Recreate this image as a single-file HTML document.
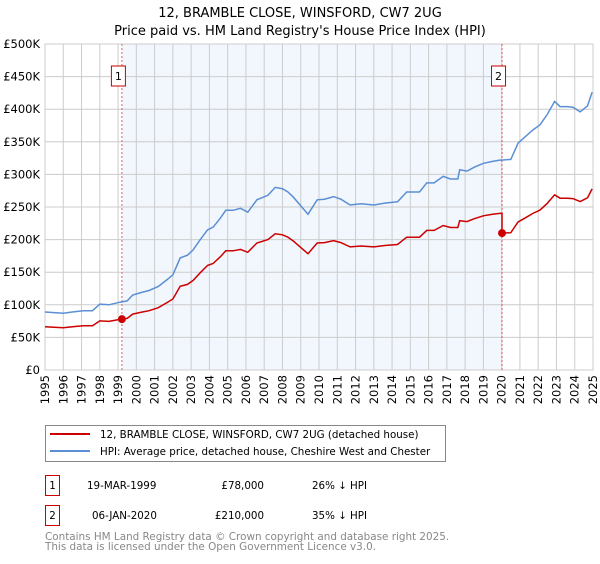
<!DOCTYPE html>
<html><head><meta charset="utf-8"><style>
body{margin:0;background:#fff;font-family:"DejaVu Sans","Liberation Sans",sans-serif;}
svg text{font-family:"DejaVu Sans","Liberation Sans",sans-serif;}
</style></head><body>
<svg id="chart" width="600" height="560" viewBox="0 0 600 560" xmlns="http://www.w3.org/2000/svg">
<text x="300" y="17" font-size="13" text-anchor="middle" fill="#000">12, BRAMBLE CLOSE, WINSFORD, CW7 2UG</text>
<text x="300" y="35" font-size="13" text-anchor="middle" fill="#000">Price paid vs. HM Land Registry's House Price Index (HPI)</text>
<g id="plot"></g>
<g>
<rect x="45.5" y="425.5" width="400" height="36" fill="#fff" stroke="#888"/>
<line x1="50" y1="434" x2="90" y2="434" stroke="#cc0000" stroke-width="2"/>
<text x="100" y="438" font-size="10.3">12, BRAMBLE CLOSE, WINSFORD, CW7 2UG (detached house)</text>
<line x1="50" y1="451" x2="90" y2="451" stroke="#5b8fd4" stroke-width="2"/>
<text x="100" y="455" font-size="10.3">HPI: Average price, detached house, Cheshire West and Chester</text>
</g>
<g font-size="10.3">
<rect x="45.5" y="475.5" width="14" height="20" fill="#fff" stroke="#cc0000"/>
<text x="52.5" y="489" text-anchor="middle">1</text>
<text x="87" y="489">19-MAR-1999</text>
<text x="264" y="489" text-anchor="end">£78,000</text>
<text x="312" y="489">26% ↓ HPI</text>
<rect x="45.5" y="505.5" width="14" height="20" fill="#fff" stroke="#cc0000"/>
<text x="52.5" y="519" text-anchor="middle">2</text>
<text x="92" y="519">06-JAN-2020</text>
<text x="264" y="519" text-anchor="end">£210,000</text>
<text x="312" y="519">35% ↓ HPI</text>
</g>
<text x="45" y="540" font-size="10.4" fill="#888">Contains HM Land Registry data © Crown copyright and database right 2025.</text>
<text x="45" y="550" font-size="10.4" fill="#888">This data is licensed under the Open Government Licence v3.0.</text>
</svg>
<script>
const hpiYears=[1995.0,1995.5,1996.0,1996.5,1997.1,1997.6,1998.0,1998.5,1999.1,1999.5,1999.8,2000.3,2000.7,2001.2,2001.7,2002.0,2002.4,2002.8,2003.1,2003.5,2003.9,2004.2,2004.6,2004.9,2005.3,2005.7,2006.1,2006.6,2007.2,2007.6,2008.0,2008.3,2008.6,2009.0,2009.4,2009.9,2010.3,2010.8,2011.2,2011.7,2012.3,2013.0,2013.6,2014.3,2014.8,2015.5,2015.9,2016.3,2016.8,2017.2,2017.6,2017.7,2018.1,2018.5,2019.0,2019.5,2019.9,2020.02,2020.5,2020.9,2021.3,2021.7,2022.1,2022.5,2022.9,2023.2,2023.6,2023.9,2024.3,2024.7,2024.95];
const hpiValues=[89,88,87,89,91,91,101,100,104,106,115,119,122,128,139,146,172,176,184,200,215,219,233,245,245,248,242,261,268,280,278,273,265,252,239,261,262,266,262,253,255,253,256,258,273,273,287,287,297,293,293,307,305,311,317,320,322,322,323,348,358,368,376,392,412,404,404,403,396,405,426];
const saleYears=[1999.21,2020.02];
const salePrices=[78,210];
const saleLabels=["1","2"];
const yTicks=[0,50,100,150,200,250,300,350,400,450,500];
const yTickLabels=["£0","£50K","£100K","£150K","£200K","£250K","£300K","£350K","£400K","£450K","£500K"];
const xTicks=[1995,1996,1997,1998,1999,2000,2001,2002,2003,2004,2005,2006,2007,2008,2009,2010,2011,2012,2013,2014,2015,2016,2017,2018,2019,2020,2021,2022,2023,2024,2025];

const L=45,R=593,T=44,B=370;
const X=y=>L+(y-1995)/(2025-1995)*(R-L);
const Y=v=>B-v/500*(B-T);
const NS='http://www.w3.org/2000/svg';
const g=document.getElementById('plot');
function mk(tag,attrs,parent){const e=document.createElementNS(NS,tag);for(const k in attrs)e.setAttribute(k,attrs[k]);(parent||g).appendChild(e);return e;}
function hpiAt(t){for(let i=0;i<hpiYears.length-1;i++){if(t<=hpiYears[i+1]){const f=(t-hpiYears[i])/(hpiYears[i+1]-hpiYears[i]);return hpiValues[i]+f*(hpiValues[i+1]-hpiValues[i]);}}return hpiValues[hpiValues.length-1];}

const shade=mk('rect',{x:X(saleYears[0]),y:T,width:X(saleYears[1])-X(saleYears[0]),height:B-T,fill:'#f2f6fd'});


xTicks.forEach(t=>{const l=mk('line',{x1:X(t),x2:X(t),y1:T,y2:B,stroke:'#ccc','stroke-width':1});


const tx=mk('text',{x:0,y:0,'font-size':11.5,'text-anchor':'end',transform:`translate(${X(t)+4},${B+5}) rotate(-90)`});


tx.textContent=t;});
yTicks.forEach((v,i)=>{const l=mk('line',{x1:L,x2:R,y1:Y(v),y2:Y(v),stroke:'#ccc','stroke-width':1});


const tx=mk('text',{x:L-5,y:Y(v)+4,'font-size':11.5,'text-anchor':'end'});


tx.textContent=yTickLabels[i];});
const border=mk('rect',{x:L,y:T,width:R-L,height:B-T,fill:'none',stroke:'#ccc'});



saleYears.forEach((s,i)=>{const l=mk('line',{x1:X(s),x2:X(s),y1:T,y2:B,stroke:'#e06060','stroke-dasharray':'2,2','stroke-width':1});


const bx=mk('rect',{x:X(s)-10.5,y:T+22,width:14,height:20,fill:'#fff',stroke:'#cc0000'});


const tx=mk('text',{x:X(s)-3.5,y:T+36,'font-size':11,'text-anchor':'middle'});


tx.textContent=saleLabels[i];});

const hp=mk('path',{d:hpiYears.map((t,i)=>(i?'L':'M')+X(t).toFixed(1)+','+Y(hpiValues[i]).toFixed(1)).join(''),fill:'none',stroke:'#5b8fd4','stroke-width':1.5});


let d='';
hpiYears.forEach((t,i)=>{const k=t<saleYears[1]?0:1;const r=salePrices[k]/hpiAt(saleYears[k]);
if(i>0&&hpiYears[i-1]<saleYears[1]&&t>=saleYears[1]){const r0=salePrices[0]/hpiAt(saleYears[0]);d+='L'+X(saleYears[1]).toFixed(1)+','+Y(hpiAt(saleYears[1])*r0).toFixed(1);}
d+=(i?'L':'M')+X(t).toFixed(1)+','+Y(hpiValues[i]*r).toFixed(1);});
const pp=mk('path',{d:d,fill:'none',stroke:'#cc0000','stroke-width':1.5});


saleYears.forEach((s,i)=>{const c=mk('circle',{cx:X(s),cy:Y(salePrices[i]),r:4,fill:'#cc0000'});

});
</script>
</body></html>
